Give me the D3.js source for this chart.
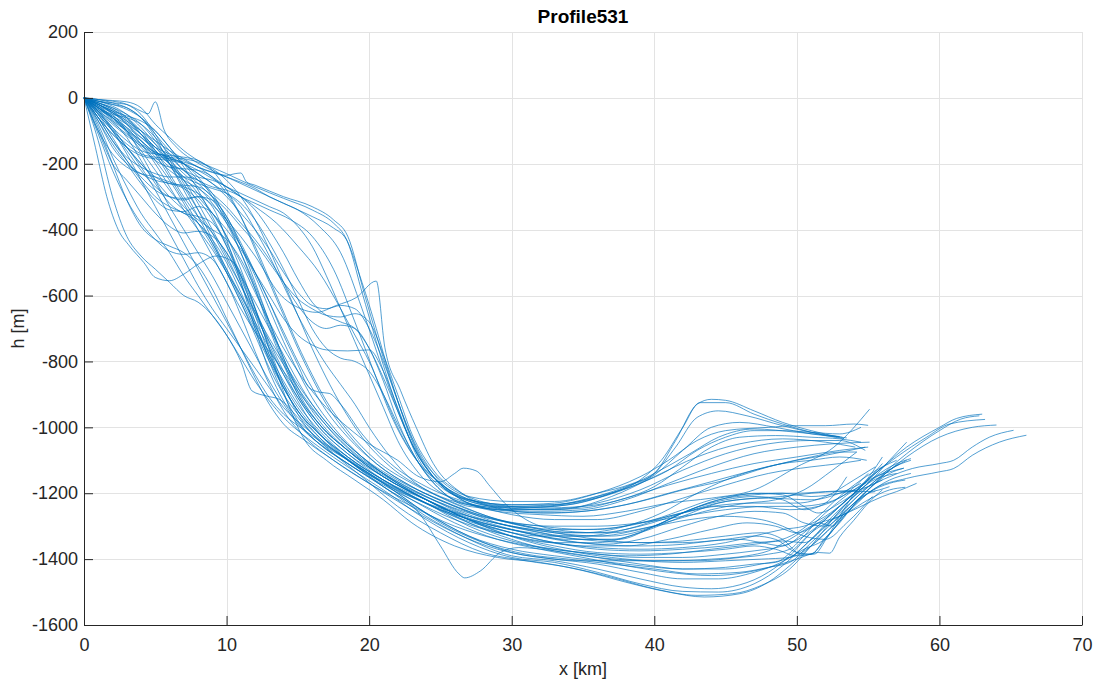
<!DOCTYPE html>
<html>
<head>
<meta charset="utf-8">
<script src="https://cdn.jsdelivr.net/npm/d3@7"></script>
<style>
  body { margin: 0; background: #fff; }
  text { font-family: "Liberation Sans", Arial, Helvetica, sans-serif; }
</style>
</head>
<body>
<svg width="1099" height="686"></svg>
<script>
var title = "Profile531"
var xLabel = "x [km]"
var yLabel = "h [m]"
var xTicks = [0, 10, 20, 30, 40, 50, 60, 70]
var yTicks = [200, 0, -200, -400, -600, -800, -1000, -1200, -1400, -1600]

// profiles, [x km, h m]
// late slope, bump near 44 km, ending ~53 km
var bumpProfiles = [
  [[0,0],[1,-5],[2,-8],[3,-12],[4,-30],[5,-80],[6,-120],[7,-160],[8,-190],[10,-230],[12,-270],[14,-305],[16,-340],[17.5,-380],[18.3,-420],[19.5,-560],[20.5,-700],[21.5,-850],[22.5,-980],[23.5,-1080],[25,-1160],[27,-1210],[30,-1225],[33,-1225],[36,-1200],[38.5,-1170],[40,-1140],[41.5,-1040],[43,-930],[44,-915],[45,-918],[47,-950],[49,-985],[51,-1010],[53,-1030]],
  [[0,0],[1,-10],[2,-15],[3,-20],[4,-40],[4.5,-48],[5,-12],[5.6,-95],[6.5,-150],[7.5,-185],[8.5,-210],[10,-240],[12,-280],[14,-320],[16,-360],[17.5,-395],[18.4,-430],[19.5,-590],[20.5,-740],[21.5,-880],[22.5,-1000],[23.5,-1100],[25,-1170],[27,-1220],[30,-1235],[33,-1235],[36,-1210],[39,-1160],[40.5,-1100],[42,-1000],[43.2,-925],[45,-925],[47,-960],[49,-990],[51,-1015],[53.3,-1035]],
  [[0,0],[1,-30],[2,-60],[3,-90],[4,-120],[5,-150],[6,-170],[7,-190],[8,-210],[9,-225],[10,-235],[10.6,-230],[11,-228],[11.4,-255],[12,-265],[14,-300],[16,-330],[17.5,-370],[18.5,-420],[19.7,-600],[21,-790],[22,-920],[23,-1040],[24.5,-1150],[26.5,-1215],[29,-1240],[32,-1240],[35,-1220],[38,-1180],[40,-1140],[41.5,-1060],[43,-970],[44.5,-950],[46.5,-965],[49,-995],[51,-1015],[53.2,-1030]],
  [[0,0],[1,-20],[2,-40],[3,-70],[4,-100],[5,-130],[6,-160],[7,-185],[8,-210],[10,-240],[12,-275],[13,-300],[14,-320],[15,-340],[16.5,-390],[18,-470],[19.5,-640],[21,-830],[22,-950],[23.5,-1090],[25,-1175],[27.5,-1230],[30,-1245],[34,-1235],[37,-1200],[40,-1145],[42,-1070],[44,-1000],[46,-985],[48.5,-1000],[51,-1020],[53.5,-1032]],
  [[0,0],[1,-40],[2,-80],[3,-115],[4,-145],[5,-170],[6,-185],[7,-195],[8,-210],[9,-240],[10,-270],[11,-300],[12,-320],[13,-340],[14.5,-370],[16,-420],[17.5,-520],[19,-680],[20.5,-850],[21.5,-960],[23,-1080],[25,-1170],[27.5,-1225],[30,-1240],[34,-1230],[37,-1200],[40,-1140],[42.5,-1080],[44.5,-1030],[47,-1005],[50,-1015],[53,-1028]]
]

// late slope, upper basin, ending 54-55 km
var upperProfiles = [
  [[0,0],[1,-100],[2,-170],[3,-210],[4,-230],[5,-240],[6,-255],[7,-270],[8,-290],[10,-370],[12,-480],[13.7,-594],[15.2,-640],[16.3,-651],[17.7,-630],[19.1,-606],[20.5,-556],[21.1,-757],[22.2,-888],[23.3,-1000],[24.5,-1110],[26.5,-1200],[29,-1245],[32,-1260],[35,-1255],[38,-1235],[41,-1200],[44,-1165],[47,-1130],[50,-1100],[52,-1085],[54.8,-1060]],
  [[0,0],[1,-30],[2,-50],[3,-60],[4,-80],[5,-120],[6,-170],[7,-220],[8,-250],[9,-270],[10,-280],[11,-300],[12,-330],[13.5,-380],[15,-450],[16.5,-530],[18,-640],[19,-720],[20,-800],[21,-900],[22,-1000],[23.5,-1110],[25,-1180],[27,-1220],[30,-1235],[33,-1230],[36,-1200],[39,-1150],[41,-1100],[43,-1040],[45,-1010],[48,-1000],[50,-995],[52,-995],[54,-990],[55,-994]],
  [[0,0],[1,-60],[2,-110],[3,-150],[4,-175],[5,-185],[6,-190],[7,-200],[8,-220],[9,-245],[10,-270],[11,-290],[12,-310],[13,-330],[14,-350],[15,-390],[16,-450],[17,-540],[18,-640],[19,-740],[20,-840],[21,-940],[22,-1040],[23.5,-1140],[25.5,-1210],[28,-1240],[30,-1250],[34,-1245],[37,-1210],[40,-1150],[43,-1090],[46,-1050],[49,-1035],[52,-1045],[54.1,-1060]],
  [[0,0],[1,-15],[2,-30],[3,-60],[4,-110],[5,-160],[6,-200],[7,-220],[8,-240],[9,-250],[10,-270],[11,-300],[12,-340],[13,-400],[14,-470],[15,-550],[16,-620],[17,-660],[18,-680],[19,-700],[20,-760],[21,-850],[22,-950],[23,-1050],[24.5,-1150],[26.5,-1220],[29,-1250],[32,-1255],[35,-1250],[38,-1220],[41,-1170],[44,-1120],[47,-1080],[50,-1060],[52.5,-1050],[55.1,-1045]],
  [[0,0],[1,-50],[2,-100],[3,-140],[4,-170],[5,-180],[6,-185],[7,-200],[8,-230],[9,-260],[10,-300],[11,-350],[12,-400],[13,-460],[14,-530],[15,-590],[16,-630],[17,-640],[18,-630],[19,-640],[20,-700],[21,-800],[22,-920],[23,-1030],[24.5,-1140],[26.5,-1220],[29,-1255],[32,-1265],[35,-1270],[38,-1255],[41,-1230],[44,-1215],[47,-1190],[50,-1120],[52.6,-1060],[55.1,-945]],
  [[0,0],[1,-20],[2,-40],[3,-55],[4,-70],[5,-100],[6,-150],[7,-200],[8,-250],[9,-290],[10,-330],[11,-380],[12,-430],[13,-490],[14,-560],[15,-630],[16,-680],[17,-700],[18,-690],[19,-700],[20,-760],[21,-860],[22,-980],[23.5,-1110],[25,-1190],[27,-1240],[30,-1250],[33,-1250],[36,-1230],[39,-1190],[42,-1130],[45,-1080],[48,-1050],[51,-1040],[53,-1040],[54.8,-1070]],
  [[0,0],[1,-40],[2,-70],[3,-100],[4,-130],[5,-170],[6,-210],[7,-240],[8,-260],[9,-275],[10,-290],[11,-320],[12,-370],[13,-440],[14,-520],[15,-610],[16,-700],[17,-760],[18,-790],[19,-800],[20,-830],[21,-900],[22,-990],[23.5,-1110],[25,-1190],[27,-1235],[30,-1245],[33,-1240],[36,-1215],[39,-1170],[41,-1130],[43,-1070],[45,-1030],[47,-1010],[49,-1010],[51,-1015],[53,-1020],[54.5,-1000]],
  [[0,0],[1,-10],[2,-20],[3,-30],[4,-60],[5,-110],[6,-160],[7,-200],[8,-230],[9,-260],[10,-290],[11,-330],[12,-400],[13,-480],[14,-570],[15,-660],[16,-740],[17,-810],[18,-870],[19,-930],[20,-1000],[21.5,-1090],[23,-1160],[25,-1210],[27.5,-1240],[30,-1255],[33,-1260],[36,-1250],[39,-1225],[42,-1190],[45,-1160],[48,-1120],[51,-1090],[53,-1075],[54.2,-1075]]
]

// mid slope, basin around -1300, hump near 45-48 km
var middleProfiles = [
  [[0,0],[1,-40],[2,-90],[3,-150],[4,-200],[5,-240],[6,-260],[7,-265],[8,-270],[9,-300],[10,-360],[11,-440],[12,-530],[13,-620],[14,-710],[15,-800],[16,-880],[17,-950],[18.5,-1030],[20.5,-1110],[23,-1180],[26,-1240],[29,-1280],[32,-1300],[35,-1310],[38,-1300],[40,-1280],[42,-1250],[44,-1220],[46,-1205],[48,-1200],[50,-1200],[52,-1195],[54.2,-1191]],
  [[0,0],[1,-20],[2,-40],[3,-80],[4,-130],[5,-180],[6,-220],[7,-250],[8,-275],[9,-310],[10,-370],[11,-450],[12,-540],[13,-640],[14,-740],[15,-830],[16,-910],[17.5,-1000],[19.5,-1090],[22,-1170],[25,-1240],[28,-1290],[31,-1320],[34,-1340],[37,-1340],[39.5,-1310],[42,-1260],[44.5,-1220],[47,-1205],[49,-1200],[51,-1210],[53,-1200],[55,-1180],[56,-1160]],
  [[0,0],[1,-5],[2,-10],[3,-20],[4,-50],[5,-110],[6,-180],[7,-250],[8,-320],[9,-400],[10,-480],[11,-570],[12,-660],[13,-740],[14,-810],[15,-880],[16,-940],[17.5,-1020],[19.5,-1100],[22,-1170],[25,-1230],[28,-1280],[31,-1310],[34,-1330],[37,-1330],[40,-1300],[42.5,-1250],[45,-1215],[47,-1200],[49,-1205],[50.5,-1240],[51.5,-1260],[53,-1230],[54.5,-1180],[56,-1090]],
  [[0,0],[1,-10],[2,-20],[3,-35],[4,-60],[5,-100],[6,-150],[7,-210],[8,-280],[9,-360],[10,-450],[11,-550],[12,-650],[13,-750],[14,-840],[15,-920],[16,-990],[17.5,-1060],[19.5,-1130],[22,-1190],[25,-1250],[28,-1290],[31,-1320],[34,-1345],[36.5,-1355],[39,-1340],[42,-1300],[44.5,-1270],[47,-1255],[49,-1260],[50.5,-1290],[52,-1300],[53.5,-1250],[55,-1200],[55.5,-1195]],
  [[0,0],[1,-30],[2,-60],[3,-100],[4,-150],[5,-190],[6,-210],[7,-215],[8,-220],[9,-240],[10,-290],[11,-360],[12,-450],[13,-550],[14,-650],[15,-750],[16,-840],[17,-920],[18.5,-1010],[20.5,-1100],[23,-1170],[26,-1230],[29,-1280],[32,-1310],[35,-1320],[38,-1300],[40.5,-1260],[43,-1200],[45,-1160],[47,-1130],[49,-1110],[51,-1100],[53,-1090],[54.9,-1100]],
  [[0,0],[1,-15],[2,-30],[3,-50],[4,-80],[5,-130],[6,-190],[7,-260],[8,-340],[9,-430],[10,-520],[11,-610],[12,-700],[13,-790],[14,-870],[15,-940],[16.5,-1020],[18.5,-1100],[21,-1170],[24,-1230],[27,-1270],[30,-1300],[33,-1320],[36,-1330],[39,-1310],[41.5,-1280],[44,-1250],[46.5,-1230],[48.5,-1220],[50.5,-1190],[52.5,-1130],[54.2,-1075]],
  [[0,0],[1,-45],[2,-90],[3,-130],[4,-160],[5,-170],[6,-175],[7,-180],[8,-190],[9,-220],[10,-280],[11,-360],[12,-460],[13,-560],[14,-660],[15,-760],[16,-850],[17,-930],[18.5,-1020],[20.5,-1110],[23,-1180],[26,-1240],[29,-1290],[32,-1320],[35,-1340],[37.5,-1340],[40,-1300],[42.5,-1250],[45,-1220],[47,-1210],[49,-1220],[50.5,-1250],[52,-1230],[53.5,-1150]],
  [[0,0],[1,-35],[2,-60],[3,-95],[4,-130],[5,-165],[6,-180],[7,-185],[8,-195],[9,-215],[10,-250],[11,-300],[12,-370],[13,-460],[14,-560],[15,-660],[16,-760],[17,-850],[18,-930],[19.5,-1030],[21.5,-1120],[24,-1190],[27,-1250],[30,-1290],[33,-1310],[36,-1310],[39,-1290],[42,-1260],[44.5,-1240],[47,-1240],[49.5,-1250],[51.5,-1240],[53.5,-1200],[55,-1140]],
  [[0,0],[1,-25],[2,-55],[3,-90],[4,-140],[5,-200],[6,-270],[7,-340],[8,-400],[9,-460],[10,-530],[11,-600],[12,-680],[13,-760],[14,-840],[15,-910],[16.5,-1000],[18.5,-1080],[21,-1160],[24,-1230],[27,-1290],[30,-1330],[33,-1350],[36,-1350],[39,-1320],[42,-1270],[44.5,-1230],[47,-1215],[49,-1210],[51,-1200],[53,-1195],[55,-1195],[56.5,-1180]],
  [[0,0],[1,-10],[2,-25],[3,-50],[4,-90],[5,-140],[6,-200],[7,-270],[8,-340],[9,-410],[10,-490],[11,-570],[12,-650],[13,-730],[14,-800],[15,-870],[16,-930],[17.5,-1010],[19.5,-1090],[22,-1160],[25,-1220],[28,-1270],[31,-1300],[34,-1320],[37,-1320],[40,-1300],[42.5,-1280],[45,-1270],[47.5,-1280],[49,-1300],[50.5,-1330],[52,-1340],[53.5,-1290],[55.3,-1210]],
  [[0,0],[1,-20],[2,-45],[3,-80],[4,-120],[5,-160],[6,-200],[7,-240],[8,-290],[9,-350],[10,-420],[11,-500],[12,-590],[13,-680],[14,-760],[15,-830],[16,-890],[17,-940],[18.5,-1000],[20,-1050],[22,-1100],[23.5,-1150],[25,-1165],[26,-1140],[26.6,-1124],[27.5,-1132],[28.5,-1180],[29.5,-1230],[31,-1280],[33,-1310],[36,-1320],[39,-1300],[42,-1260],[45,-1225],[48,-1215],[51,-1220],[53,-1200],[54.5,-1170]]
]

// early slope, lower basin, ending 56-58 km
var lowerProfiles = [
  [[0,0],[1,-30],[2,-70],[3,-120],[4,-190],[5,-260],[6,-320],[7,-350],[8,-360],[9,-380],[10,-440],[11,-540],[12,-660],[13,-780],[14,-880],[15,-950],[16.5,-1020],[18.5,-1090],[21,-1160],[24,-1230],[27,-1300],[30,-1345],[33,-1370],[36,-1385],[39,-1395],[42,-1395],[45,-1385],[47,-1375],[49,-1360],[50.5,-1330],[52,-1280],[53.5,-1220],[55,-1170],[56.5,-1100],[57.7,-1045]],
  [[0,0],[1,-50],[2,-100],[3,-160],[4,-220],[5,-270],[6,-300],[7,-310],[8,-300],[9,-310],[10,-360],[11,-450],[12,-560],[13,-680],[14,-790],[15,-880],[16.5,-980],[18.5,-1070],[21,-1150],[24,-1220],[27,-1280],[30,-1320],[33,-1350],[36,-1370],[39,-1375],[42,-1370],[45,-1360],[47,-1350],[48.5,-1345],[50,-1320],[51.5,-1270],[53,-1210],[54.5,-1160],[56,-1120],[57,-1100]],
  [[0,0],[1,-60],[2,-130],[3,-180],[4,-210],[5,-230],[6,-240],[7,-240],[8,-250],[9,-290],[10,-370],[11,-470],[12,-580],[13,-700],[14,-810],[15,-900],[16.5,-990],[18.5,-1070],[21,-1140],[24,-1210],[27,-1270],[30,-1310],[33,-1340],[36,-1355],[39,-1360],[42,-1355],[44,-1345],[46,-1340],[47.5,-1350],[49,-1360],[50.5,-1320],[52,-1260],[54,-1190],[55.5,-1150],[56.5,-1135],[57.5,-1124]],
  [[0,0],[1,-25],[2,-45],[3,-70],[4,-110],[5,-170],[6,-240],[7,-310],[8,-380],[9,-450],[10,-530],[11,-620],[12,-710],[13,-800],[14,-880],[15,-950],[16.5,-1020],[18.5,-1090],[21,-1160],[24,-1230],[27,-1280],[30,-1310],[33,-1330],[36,-1345],[39,-1350],[42,-1345],[45,-1330],[47.5,-1320],[49,-1340],[50.3,-1385],[51.2,-1385],[52.2,-1330],[53.5,-1260],[55,-1200],[56.5,-1170],[57.6,-1160]],
  [[0,0],[1,-15],[2,-35],[3,-60],[4,-100],[5,-160],[6,-230],[7,-300],[8,-360],[9,-410],[10,-470],[11,-540],[12,-620],[13,-700],[14,-780],[15,-860],[16,-930],[17.5,-1010],[19.5,-1090],[22,-1170],[25,-1240],[28,-1300],[31,-1345],[34,-1375],[37,-1395],[40,-1405],[43,-1405],[46,-1395],[48,-1385],[49.5,-1370],[50.5,-1330],[51.5,-1290],[52.5,-1300],[53.5,-1250],[55,-1200],[56.5,-1160],[58,-1140]],
  [[0,0],[1,-35],[2,-75],[3,-110],[4,-140],[5,-165],[6,-180],[7,-200],[8,-240],[9,-300],[10,-380],[11,-470],[12,-570],[13,-680],[14,-790],[15,-890],[16.5,-990],[18.5,-1070],[21,-1150],[24,-1220],[27,-1280],[30,-1330],[33,-1360],[36,-1380],[39,-1385],[42,-1380],[45,-1370],[47,-1360],[48.5,-1370],[50,-1390],[51,-1385],[52,-1340],[53.5,-1260],[55,-1190],[56.5,-1130],[57.2,-1110]],
  [[0,0],[1,-70],[2,-150],[3,-200],[4,-230],[5,-250],[6,-260],[7,-275],[8,-310],[9,-370],[10,-450],[11,-540],[12,-640],[13,-740],[14,-830],[15,-910],[16.5,-1000],[18.5,-1080],[21,-1150],[24,-1220],[27,-1280],[30,-1320],[33,-1350],[36,-1365],[39,-1370],[42,-1365],[45,-1350],[47,-1330],[49,-1310],[50.5,-1300],[52,-1270],[53.5,-1220],[55,-1160],[56,-1120]],
  [[0,0],[1,-25],[2,-60],[3,-105],[4,-160],[5,-220],[6,-280],[7,-330],[8,-370],[9,-400],[10,-430],[11,-490],[12,-580],[13,-690],[14,-800],[15,-900],[16.5,-990],[18.5,-1070],[21,-1150],[24,-1220],[27,-1290],[30,-1340],[33,-1375],[36,-1395],[39,-1405],[42,-1410],[45,-1405],[47.5,-1400],[49.5,-1395],[51,-1360],[52.5,-1300],[54,-1230],[55.5,-1170],[56.5,-1140],[57.5,-1124]],
  [[0,0],[1,-5],[2,-15],[3,-30],[4,-60],[5,-120],[6,-200],[7,-280],[8,-360],[9,-440],[10,-520],[11,-600],[12,-690],[13,-780],[14,-860],[15,-930],[16.5,-1010],[18.5,-1090],[21,-1160],[24,-1220],[27,-1270],[30,-1300],[33,-1320],[36,-1340],[39,-1350],[42,-1350],[45,-1340],[47,-1330],[48.5,-1340],[50,-1380],[51,-1385],[52,-1335],[53,-1290],[54.2,-1225],[55.5,-1170],[56.5,-1130],[58,-1100]]
]

// earliest slope, deepest basin, long tails to 62-66 km
var deepProfiles = [
  [[0,0],[0.8,-150],[1.6,-300],[2.4,-400],[3.2,-450],[4.2,-500],[5,-545],[6,-555],[7,-535],[8,-505],[9.3,-480],[10.5,-500],[11.5,-580],[12.5,-700],[13.5,-830],[14.5,-950],[15.5,-1040],[17,-1100],[19,-1160],[21,-1220],[23,-1290],[26,-1360],[29,-1395],[32,-1410],[35,-1435],[38,-1470],[41,-1500],[43.5,-1515],[46,-1505],[48,-1470],[49.5,-1420],[51,-1360],[52.5,-1300],[54,-1240],[55.3,-1190],[57.7,-1155],[60,-1135],[61,-1125],[62.3,-1085],[64.2,-1045],[66.1,-1024]],
  [[0,0],[1,-130],[2,-300],[3,-420],[4,-480],[5,-520],[6,-560],[7,-600],[8,-620],[9,-660],[10,-720],[11,-800],[11.8,-890],[12.8,-905],[13.7,-915],[15,-970],[16,-1020],[17.5,-1080],[19.5,-1150],[22,-1240],[25,-1320],[28,-1380],[31,-1405],[34,-1425],[37,-1455],[40,-1490],[43,-1510],[45.5,-1505],[47.5,-1480],[49.5,-1430],[51,-1360],[52.5,-1280],[54,-1210],[56.5,-1150],[58.1,-1125],[60,-1110],[61,-1100],[62.3,-1060],[63.5,-1030],[65.2,-1009]],
  [[0,0],[1,-80],[2,-180],[3,-270],[4,-350],[5,-410],[6,-470],[7,-540],[8,-600],[9,-660],[10,-720],[11,-790],[12,-860],[13,-920],[14,-970],[15,-1010],[16.5,-1060],[18.5,-1120],[21,-1190],[24,-1280],[27,-1350],[30,-1395],[33,-1410],[36,-1440],[39,-1475],[42,-1498],[44.5,-1500],[47,-1475],[49,-1420],[50.5,-1360],[52,-1300],[53.5,-1240],[55,-1180],[56.5,-1130],[57.7,-1090],[60,-1030],[62.3,-1000],[64,-993]],
  [[0,0],[1,-100],[2,-200],[3,-250],[4,-300],[5,-350],[6,-390],[7,-410],[8,-405],[9,-420],[10,-470],[11,-560],[12,-680],[13,-800],[14,-900],[15,-980],[16.5,-1050],[18.5,-1110],[21,-1180],[24,-1270],[27,-1340],[30,-1390],[33,-1405],[36,-1430],[39,-1460],[42,-1485],[44,-1490],[46,-1478],[48,-1440],[49.5,-1390],[51,-1320],[52.5,-1260],[54,-1200],[55.5,-1140],[57,-1090],[59.1,-1030],[60.7,-990],[63.2,-976]],
  [[0,0],[1,-70],[2,-140],[3,-200],[4,-260],[5,-310],[6,-340],[7,-345],[8,-330],[9,-350],[10,-420],[11,-520],[12,-640],[13,-760],[14,-870],[15,-960],[16.5,-1040],[18.5,-1100],[21,-1170],[24,-1260],[27,-1330],[30,-1380],[33,-1400],[36,-1415],[39,-1440],[42,-1460],[44.5,-1460],[47,-1440],[48.8,-1412],[50.5,-1370],[52.1,-1333],[53,-1270],[54.2,-1191],[56,-1121],[57.7,-1060],[60,-1000],[61.2,-973],[63,-960]],
  [[0,0],[1,-60],[2,-110],[3,-150],[4,-200],[5,-250],[6,-300],[7,-340],[8,-380],[9,-440],[10,-530],[11,-620],[12,-720],[13,-820],[14,-900],[15,-960],[17,-1050],[19,-1110],[22,-1200],[25,-1290],[28,-1350],[31,-1385],[34,-1400],[37,-1415],[40,-1430],[43,-1445],[46,-1440],[48,-1425],[49.5,-1410],[51,-1350],[52.5,-1290],[54,-1220],[55.3,-1170],[57.7,-1080],[60,-1010],[61.5,-975],[62.8,-965]],
  [[0,0],[1,-20],[2,-50],[3,-100],[4,-170],[5,-250],[6,-330],[7,-400],[8,-470],[9,-540],[10,-620],[11,-700],[12,-780],[13,-860],[14,-930],[15,-990],[16.5,-1050],[18.5,-1110],[21,-1180],[24,-1260],[27,-1330],[30,-1370],[33,-1390],[36,-1405],[39,-1420],[42,-1430],[45,-1425],[47,-1415],[48.5,-1410],[49.8,-1370],[51,-1320],[52.5,-1280],[53.5,-1260],[55,-1220],[56.5,-1190],[57.6,-1182]],
  [[0,0],[1,-90],[2,-200],[3,-310],[4,-390],[5,-430],[6,-450],[7,-470],[8,-510],[9,-580],[10,-670],[11,-760],[12,-850],[13,-930],[14,-990],[15.5,-1040],[17.5,-1100],[20,-1170],[23,-1250],[26,-1320],[29,-1370],[32,-1395],[35,-1405],[38,-1405],[41,-1405],[44,-1400],[46.5,-1390],[48,-1375],[49.5,-1340],[51,-1300],[53,-1270],[54.5,-1240],[56,-1210],[57,-1195],[58.4,-1170]],
  [[0,0],[1,-50],[2,-120],[3,-190],[4,-250],[5,-300],[6,-330],[7,-350],[8,-380],[9,-430],[10,-500],[11,-590],[12,-690],[13,-790],[14,-880],[15,-950],[16.5,-1030],[18.5,-1100],[21,-1180],[23.5,-1260],[25,-1360],[26.3,-1445],[26.7,-1457],[27.8,-1436],[29.2,-1380],[30.5,-1365],[33,-1375],[36,-1395],[39,-1415],[42,-1430],[45,-1430],[47.5,-1415],[49.5,-1395],[51,-1340],[52.5,-1270],[54,-1210],[55.5,-1150],[57,-1110],[58,-1095]]
]

// in-between profiles that fill the gaps of the bundles above
var extraProfiles = [
  [[0,0],[1,-110],[2,-220],[3,-310],[4,-380],[5,-430],[6,-465],[7,-475],[8,-470],[9,-490],[10,-560],[11,-660],[12,-770],[13,-870],[14,-950],[15.5,-1030],[17.5,-1100],[20,-1170],[23,-1240],[26,-1300],[29,-1340],[32,-1365],[35,-1380],[38,-1390],[41,-1385],[44,-1370],[47,-1355],[49,-1345],[50.5,-1350],[52,-1300],[53.5,-1230],[55,-1170],[57,-1140]],
  [[0,0],[1,-40],[2,-100],[3,-170],[4,-250],[5,-330],[6,-410],[7,-490],[8,-570],[9,-640],[10,-700],[11,-760],[12,-820],[13,-880],[14,-940],[15.5,-1000],[17.5,-1070],[20,-1140],[23,-1210],[26,-1270],[29,-1310],[32,-1330],[35,-1330],[38,-1310],[41,-1270],[44,-1240],[47,-1230],[50,-1230],[52,-1210],[54,-1160],[55.5,-1120]],
  [[0,0],[1,-60],[2,-130],[3,-190],[4,-240],[5,-280],[6,-300],[7,-305],[8,-300],[9,-330],[10,-430],[11,-560],[12,-700],[13,-830],[14,-920],[15.5,-1010],[17.5,-1080],[20,-1150],[23,-1220],[26,-1280],[29,-1320],[32,-1345],[35,-1360],[38,-1360],[41,-1340],[44,-1310],[46.5,-1290],[48.5,-1300],[50,-1320],[51.5,-1290],[53,-1240],[54.5,-1180],[56,-1110]],
  [[0,0],[1,-20],[2,-45],[3,-75],[4,-110],[5,-150],[6,-190],[7,-230],[8,-270],[9,-320],[10,-380],[11,-450],[12,-530],[13,-620],[14,-720],[15,-810],[15.8,-880],[16.5,-893],[17.2,-897],[18,-930],[19.5,-1020],[21.5,-1110],[24,-1180],[27,-1230],[30,-1265],[33,-1280],[36,-1280],[39,-1255],[42,-1215],[45,-1175],[48,-1140],[51,-1120],[53,-1110],[54.5,-1100]],
  [[0,0],[1,-30],[2,-55],[3,-80],[4,-110],[5,-150],[6,-200],[7,-250],[8,-300],[9,-350],[10,-400],[11,-460],[12,-530],[13,-600],[14,-670],[15,-720],[16,-750],[17,-765],[18.5,-768],[20,-765],[21,-830],[22,-940],[23,-1050],[24.5,-1150],[26.5,-1210],[29,-1240],[32,-1250],[35,-1245],[38,-1215],[41,-1175],[44,-1140],[47,-1110],[50,-1090],[53,-1070],[55,-1060]],
  [[0,0],[1,-15],[2,-35],[3,-65],[4,-100],[5,-140],[6,-180],[7,-220],[8,-260],[9,-300],[10,-340],[11,-390],[12,-440],[13,-500],[14,-560],[15,-610],[16,-640],[17,-660],[18,-665],[19,-655],[20,-680],[21,-780],[22,-900],[23,-1020],[24.5,-1130],[26.5,-1200],[29,-1235],[32,-1245],[35,-1240],[38,-1215],[40,-1180],[42,-1120],[44,-1060],[46,-1030],[48.5,-1025],[51,-1030],[53,-1035],[54.5,-1045]],
  [[0,0],[1,-30],[2,-65],[3,-100],[4,-140],[5,-190],[6,-250],[7,-320],[8,-400],[9,-480],[10,-560],[11,-640],[12,-710],[13,-770],[14,-830],[15,-890],[16.5,-970],[18.5,-1060],[21,-1140],[24,-1210],[27,-1260],[30,-1290],[33,-1300],[36,-1300],[39,-1290],[42,-1270],[45,-1250],[48,-1240],[50,-1240],[52,-1230],[54,-1190],[56,-1140],[57.7,-1100]],
  [[0,0],[1,-45],[2,-95],[3,-150],[4,-210],[5,-280],[6,-360],[7,-440],[8,-520],[9,-600],[10,-680],[11,-760],[12,-840],[13,-910],[14,-960],[15.5,-1010],[17.5,-1070],[20,-1140],[23,-1220],[26,-1290],[29,-1340],[32,-1370],[35,-1395],[38,-1420],[41,-1440],[44,-1450],[46.5,-1440],[48.5,-1420],[50,-1400],[51.5,-1380],[52.3,-1382],[53,-1333],[54,-1282],[55,-1230],[56,-1190]]
]

var svg = d3.select('svg')
var width = 1099
var height = 686
var margin = {left: 84, right: 17, top: 32, bottom: 61}

var x = d3.scaleLinear()
  .domain([0, 70])
  .range([margin.left, width - margin.right])
var y = d3.scaleLinear()
  .domain([-1600, 200])
  .range([height - margin.bottom, margin.top])

svg.append('rect').attr('width', width).attr('height', height).attr('fill', '#fff')

// grid
var grid = svg.append('g').attr('stroke', '#e3e3e3').attr('stroke-width', 1)
grid.selectAll('line.vx').data(xTicks).enter().append('line')
  .attr('x1', d => Math.round(x(d)) + 0.5).attr('x2', d => Math.round(x(d)) + 0.5)
  .attr('y1', y(200)).attr('y2', y(-1600))
grid.selectAll('line.hy').data(yTicks).enter().append('line')
  .attr('y1', d => Math.round(y(d)) + 0.5).attr('y2', d => Math.round(y(d)) + 0.5)
  .attr('x1', x(0)).attr('x2', x(70))

var allProfiles = [].concat(bumpProfiles, upperProfiles, middleProfiles, lowerProfiles, deepProfiles, extraProfiles)

var line = d3.line()
  .x(d => x(d[0]))
  .y(d => y(d[1]))
  .curve(d3.curveMonotoneX)

svg.append('g')
    .attr('fill', 'none')
    .attr('stroke', '#0072BD')
    .attr('stroke-width', 0.9)
    .attr('stroke-opacity', 0.75)
    .attr('stroke-linejoin', 'round')
  .selectAll('path')
  .data(allProfiles)
  .enter()
  .append('path')
    .attr('d', d => line(d))

// axes, matlab style ticks pointing inwards
var xAxis = g => g
  .attr('transform', `translate(0,${height - margin.bottom})`)
  .call(d3.axisBottom(x).tickValues(xTicks).tickFormat(d => String(d)).tickSizeInner(-9).tickSizeOuter(0).tickPadding(13))
var yAxis = g => g
  .attr('transform', `translate(${margin.left},0)`)
  .call(d3.axisLeft(y).tickValues(yTicks).tickFormat(d => String(d)).tickSizeInner(-9).tickSizeOuter(0).tickPadding(6))

;[xAxis, yAxis].forEach(a => {
  svg.append('g').call(a)
    .call(g => g.selectAll('.domain').attr('stroke', '#262626'))
    .call(g => g.selectAll('.tick line').attr('stroke', '#262626'))
    .call(g => g.selectAll('.tick text')
      .attr('fill', '#262626')
      .style('font-size', '18px')
      .style('font-family', '"Liberation Sans", Arial, sans-serif'))
})

svg.append('text')
  .attr('x', x(35)).attr('y', 23)
  .attr('text-anchor', 'middle')
  .style('font-size', '19px').style('font-weight', 'bold')
  .attr('fill', '#000')
  .text(title)

svg.append('text')
  .attr('x', x(35)).attr('y', 675)
  .attr('text-anchor', 'middle')
  .style('font-size', '18px')
  .attr('fill', '#262626')
  .text(xLabel)

svg.append('text')
  .attr('transform', `translate(24,${(y(200) + y(-1600)) / 2}) rotate(-90)`)
  .attr('text-anchor', 'middle')
  .style('font-size', '18px')
  .attr('fill', '#262626')
  .text(yLabel)
</script>
</body>
</html>
